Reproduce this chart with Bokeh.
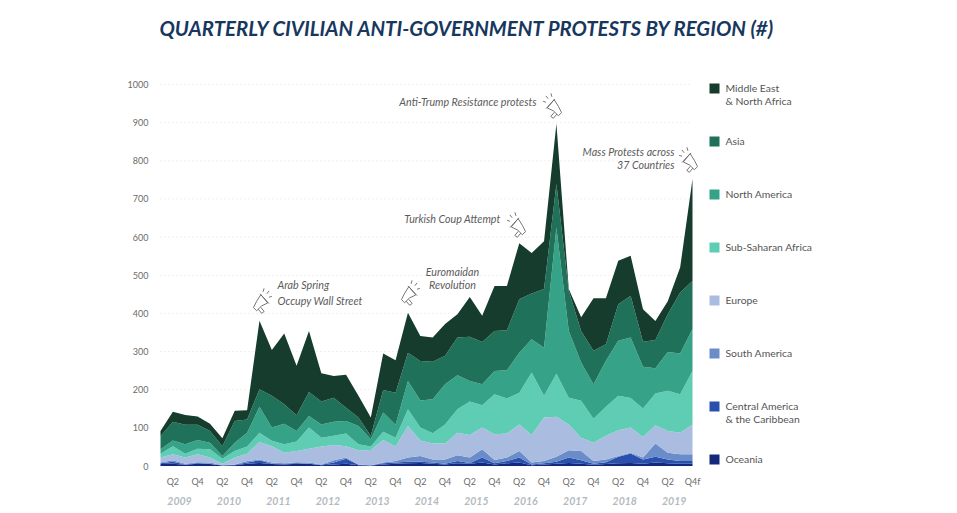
import math
import numpy as np
from bokeh.embed import file_html
from bokeh.models import ColumnDataSource, FixedTicker, Label, Range1d
from bokeh.plotting import figure
from bokeh.resources import INLINE

# Upper edge of each stacked band, quarter by quarter from 2009 Q1 to 2019 Q4
oceania_top = [5,6,3,6,5,1,2,6,8,5,4,6,6,2,4,6,2,1,4,6,7,8,6,4,7,6,9,4,7,9,2,4,6,8,6,3,5,7,8,6,9,7,6,6]
central_top = [7,11,4,8,6,1,3,9,15,6,5,8,6,3,9,19,3,1,7,9,11,11,9,6,13,8,22,7,13,22,4,7,11,22,15,6,10,24,33,17,24,17,13,13]
south_top = [9,15,6,10,9,2,4,13,17,9,7,10,9,4,15,22,4,2,9,13,22,26,17,17,28,22,44,16,22,39,9,13,24,41,39,13,17,26,35,22,59,35,31,31]
europe_top = [22,31,22,31,22,6,22,32,63,52,35,39,45,51,55,52,41,42,68,51,105,67,59,59,87,81,101,83,85,109,81,127,129,109,74,61,79,94,101,76,107,92,87,109]
subsaharan_top = [32,52,32,45,44,19,39,51,87,66,57,64,101,74,79,85,57,51,90,74,149,101,86,109,149,169,159,188,177,192,245,184,242,179,171,124,155,184,178,151,190,197,188,249]
namerica_top = [44,67,57,68,61,26,61,87,155,101,111,92,131,109,116,118,105,70,140,108,223,172,175,214,238,223,214,249,251,297,332,310,625,354,271,214,276,328,337,260,256,299,295,359]
asia_top = [78,116,108,108,92,52,118,122,201,184,162,133,194,169,179,153,127,79,199,192,297,275,273,289,337,339,325,354,356,437,452,464,739,459,354,302,319,424,446,326,330,398,455,485]
mena_top = [92,142,134,130,111,73,145,146,381,304,347,263,354,243,236,239,184,127,295,277,402,341,337,372,398,443,394,472,472,584,558,589,897,464,390,440,440,538,551,411,380,432,520,752]

regions = ["Oceania", "Central America & the Caribbean", "South America", "Europe",
           "Sub-Saharan Africa", "North America", "Asia", "Middle East & North Africa"]
colors = ["#13297c", "#2a50ae", "#6a8cc8", "#aabde0", "#5fcdb3", "#36a389", "#1f7259", "#153c2d"]
tops = [oceania_top, central_top, south_top, europe_top, subsaharan_top, namerica_top, asia_top, mena_top]

quarters = list(range(44))
tick_quarters = list(range(1, 44, 2))
tick_labels = ["Q2", "Q4"] * 10 + ["Q2", "Q4f"]
y_ticks = list(range(0, 1001, 100))
years = [str(y) for y in range(2009, 2020)]
legend_rows = [("Middle East\n& North Africa", 7), ("Asia", 6), ("North America", 5),
               ("Sub-Saharan Africa", 4), ("Europe", 3), ("South America", 2),
               ("Central America\n& the Caribbean", 1), ("Oceania", 0)]

values = np.diff(np.array([[0] * 44] + tops), axis=0)
source = ColumnDataSource({"q": quarters, **{r: values[i] for i, r in enumerate(regions)}})

# page pixels -> data
PX0, PX_STEP = 160.0, 532.0 / 43
PY0, PY_UNIT = 465.5, 381.5 / 1000
def dx(px): return (px - PX0) / PX_STEP
def dy(py): return (PY0 - py) / PY_UNIT

W, H = 941, 510
p = figure(width=W, height=H, output_backend="svg", toolbar_location=None,
           x_range=Range1d(dx(0), dx(W)), y_range=Range1d(dy(H), dy(0)),
           min_border=0)
p.outline_line_color = None
p.background_fill_color = "white"
p.xgrid.visible = False
p.ygrid.visible = False

grid = p.segment(x0=[0] * len(y_ticks), x1=[quarters[-1]] * len(y_ticks), y0=y_ticks, y1=y_ticks,
                 line_color="#e2e2e2", line_width=1)
grid.glyph.line_dash = [1, 3]
p.varea_stack(regions, x="q", color=colors, source=source)

xax, yax = p.xaxis[0], p.yaxis[0]
xax.fixed_location = 0
yax.fixed_location = 0
xax.ticker = FixedTicker(ticks=tick_quarters)
xax.major_label_overrides = {q: t for q, t in zip(tick_quarters, tick_labels)}
yax.ticker = FixedTicker(ticks=y_ticks)
for ax in (xax, yax):
    ax.axis_line_color = None
    ax.major_tick_line_color = None
    ax.minor_tick_line_color = None
    ax.major_label_text_font = "Lato"
    ax.major_label_text_font_size = "9px"
    ax.major_label_text_color = "#6b6b6b"
xax.major_label_standoff = 4
yax.major_label_standoff = 6

def label(text, px, py, size="10.7px", color="#5c5c5c", style="italic", align="left",
          baseline="middle", font="Lato"):
    p.add_layout(Label(x=dx(px), y=dy(py), text=text, text_font=font, text_font_size=size,
                       text_color=color, text_font_style=style, text_align=align,
                       text_baseline=baseline))

label("QUARTERLY CIVILIAN ANTI-GOVERNMENT PROTESTS BY REGION (#)", 467, 27, size="20.4px",
      color="#17375e", style="bold italic", align="center")

for i, y in enumerate(years):
    label(y, 179 + i * 49.47, 500, size="10.5px", color="#b4bbbf", style="bold italic", align="center")

label("Arab Spring", 277, 284)
label("Occupy Wall Street", 277, 300)
label("Euromaidan", 452, 271, align="center")
label("Revolution", 452, 284, align="center")
label("Anti-Trump Resistance protests", 536, 101, align="right")
label("Turkish Coup Attempt", 500, 218, align="right")
label("Mass Protests across", 674, 151, align="right")
label("37 Countries", 674, 164, align="right")

# legend
leg_x, leg_y = [], []
leg_colors = []
for n, (text, idx) in enumerate(legend_rows):
    cy = 88 + n * 53
    leg_x.append(dx(714)); leg_y.append(dy(cy)); leg_colors.append(colors[idx])
    for k, line in enumerate(text.split("\n")):
        label(line, 725, cy - 1 + k * 13, size="10.4px", color="#555555", style="normal")
p.scatter(leg_x, leg_y, marker="square", size=10, fill_color=leg_colors, line_color=None)

# megaphone icons: (centre px, centre py, flipped)
horn = [(-7, 2), (-2, -3), (4, -8), (8, 2), (1, 3), (-5, 6), (-7, 2)]
rim = [(3.5, -9), (9, 3)]
handle = [(-3, 5), (-1, 10), (2, 9), (0, 4)]
rays = [[(10, -7), (13, -9)], [(11, -3), (14, -3)], [(7, -10), (9, -13)]]
def place(shape, cx, cy, flip):
    a = math.radians(-18)
    out_x, out_y = [], []
    for x, y in shape:
        xr, yr = x * math.cos(a) - y * math.sin(a), x * math.sin(a) + y * math.cos(a)
        if flip:
            xr = -xr
        out_x.append(dx(cx + xr))
        out_y.append(dy(cy + yr))
    return out_x, out_y
icons = [(259, 303, False), (407, 295, False), (555, 108, True), (519, 227, True), (691, 162, True)]
xs, ys = [], []
for cx, cy, flip in icons:
    for shape in [horn, rim, handle] + rays:
        a, b = place(shape, cx, cy, flip)
        xs.append(a); ys.append(b)
p.multi_line(xs, ys, line_color="#666666", line_width=0.9)

open("out.html", "w").write(file_html(p, INLINE))
